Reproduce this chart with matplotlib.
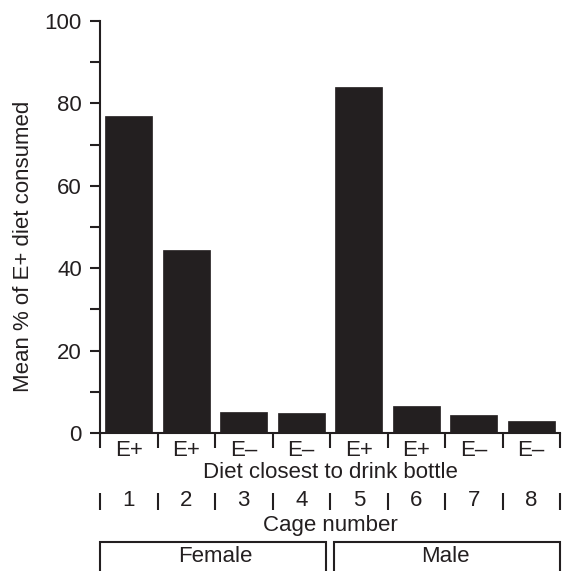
import matplotlib
matplotlib.use("Agg")
import matplotlib.pyplot as plt
import matplotlib.transforms as mtransforms
import numpy as np

cages = [1, 2, 3, 4, 5, 6, 7, 8]
diet_closest = ["E+", "E+", "E–", "E–", "E+", "E+", "E–", "E–"]
mean_pct = [77.0, 44.4, 5.0, 4.8, 83.9, 6.5, 4.3, 2.8]
sexes = ["Female", "Male"]
sex_groups = [(1, 4), (5, 8)]

INK = "#231f20"
plt.rcParams["font.family"] = ["Liberation Sans", "DejaVu Sans"]
plt.rcParams["text.color"] = INK

W, H, DPI = 563, 571, 100
fig = plt.figure(figsize=(W / DPI, H / DPI), dpi=DPI)
ax_l, ax_r, ax_top, ax_bot = 100, 560, 21, 433
ax = fig.add_axes([ax_l / W, 1 - ax_bot / H, (ax_r - ax_l) / W, (ax_bot - ax_top) / H])

x = np.array(cages)
ax.bar(x, mean_pct, width=0.81, color=INK, edgecolor=INK, linewidth=0.5)
ax.set_xlim(0.5, 8.5)
ax.set_ylim(0, 100)

LW = 1.5
for s in ["top", "right"]:
    ax.spines[s].set_visible(False)
for s in ["left", "bottom"]:
    ax.spines[s].set_linewidth(LW)
    ax.spines[s].set_color(INK)
ax.set_xticks([])
ax.set_yticks(np.arange(0, 101, 20))
ax.set_yticks(np.arange(10, 100, 20), minor=True)
ax.tick_params(axis="y", which="both", direction="out", length=7, width=LW,
               color=INK, labelcolor=INK, labelsize=16, pad=6)
ax.set_ylabel("Mean % of E+ diet consumed", fontsize=16, color=INK)


# helper: pixel row -> axes fraction
def yf(py):
    return (ax_bot - py) / (ax_bot - ax_top)


ax.yaxis.set_label_coords((24 - ax_l) / (ax_r - ax_l), yf(246.5))
ax.yaxis.label.set_va("center")

trans = mtransforms.blended_transform_factory(ax.transData, ax.transAxes)
seps = np.arange(0.5, 9.0, 1.0)

# Row 1 separators and diet labels
for sx in seps:
    ax.plot([sx, sx], [yf(433), yf(448)], transform=trans, color=INK, lw=LW, clip_on=False,
            solid_capstyle="butt")
for xi, lab in zip(x, diet_closest):
    ax.text(xi, yf(450), lab, transform=trans, ha="center", va="center", fontsize=16)
ax.text(4.5, yf(473), "Diet closest to drink bottle", transform=trans, ha="center",
        va="center", fontsize=16)

# Row 2 separators and cage numbers
for sx in seps:
    ax.plot([sx, sx], [yf(493), yf(510)], transform=trans, color=INK, lw=LW, clip_on=False,
            solid_capstyle="butt")
for xi, c in zip(x, cages):
    ax.text(xi, yf(501), str(c), transform=trans, ha="center", va="center", fontsize=16)
ax.text(4.5, yf(525), "Cage number", transform=trans, ha="center", va="center", fontsize=16)

# Sex group boxes
gap = 0.065
for (a, b), name in zip(sex_groups, sexes):
    left = a - 0.5 + (gap if a > 1 else 0)
    right = b + 0.5 - (gap if b < 8 else 0)
    ax.plot([left, left, right, right], [yf(575), yf(542), yf(542), yf(575)],
            transform=trans, color=INK, lw=LW, clip_on=False, solid_joinstyle="miter")
    ax.text((a + b) / 2, yf(557), name, transform=trans, ha="center", va="center", fontsize=16)

fig.savefig("out.png", dpi=DPI)
